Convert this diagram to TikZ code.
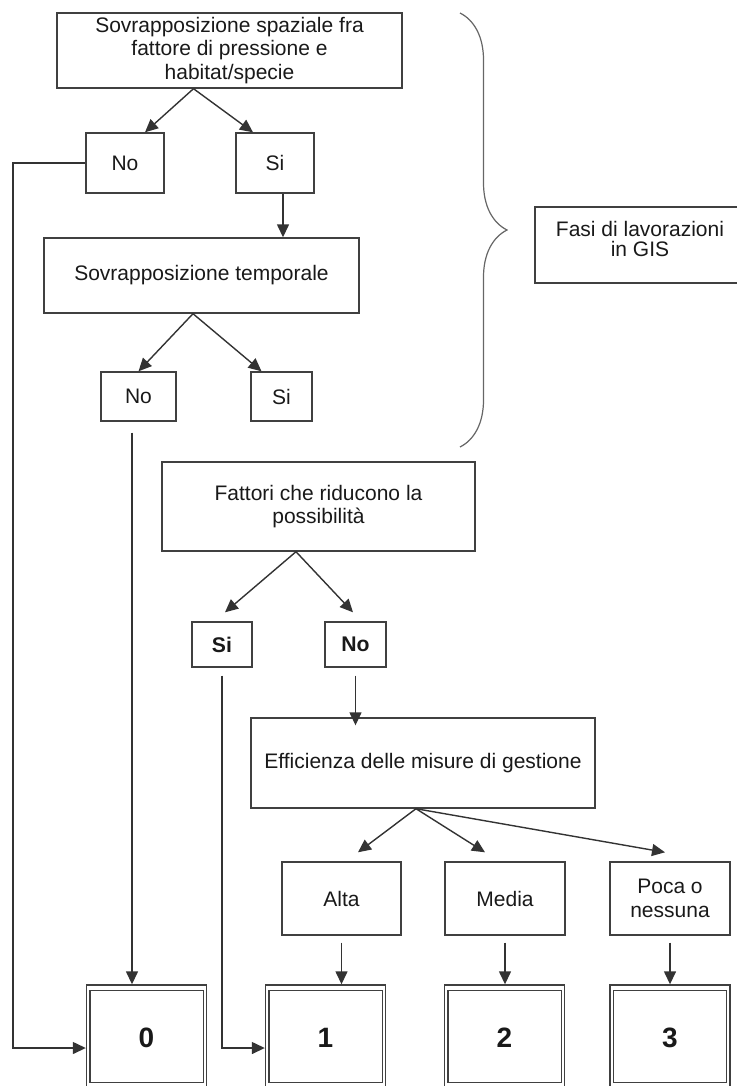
\documentclass[tikz,border=0pt]{standalone}
\usepackage{fontspec}
\setmainfont{Liberation Sans}
\usetikzlibrary{arrows.meta,positioning,decorations.pathreplacing}

\begin{document}
\begin{tikzpicture}[x=0.5pt,y=-0.5pt,
	box/.style={draw=black!75,line width=0.7pt,align=center,inner sep=1pt,text=black!90,font=\fontsize{10.5}{11.8}\selectfont},
	res/.style={draw=black!75,line width=0.7pt,minimum width=60pt,minimum height=52.5pt,text=black!90,font=\fontsize{14}{16}\selectfont\bfseries},
	arr/.style={-{Triangle[length=6.5pt,width=6pt]},draw=black!80,line width=0.7pt},
	lin/.style={draw=black!75,line width=0.7pt}]
				\useasboundingbox (0,0) rectangle (737,1086);
				
				\node[box,minimum width=172.5pt,minimum height=37.5pt] (spaz) at (229.5,50.5) {Sovrapposizione spaziale fra\\fattore di pressione e\\habitat/specie};
				\node[box,minimum width=39pt,minimum height=30pt] (no1) at (125,163) {No};
				\node[box,minimum width=39pt,minimum height=30pt] (si1) at (275,163) {Si};
				\node[box,minimum width=157.5pt,minimum height=37.5pt] (temp) at (201.5,275.5) {Sovrapposizione temporale};
				\node[box,minimum width=37.5pt,minimum height=24.5pt] (no2) at (138.5,396.5) {No};
				\node[box,minimum width=30.5pt,minimum height=24.5pt] (si2) at (281.5,396.5) {Si};
				
				\draw[arr] ([xshift=-18pt]spaz.south) -- ([xshift=10pt]no1.north);
				\draw[arr] ([xshift=-18pt]spaz.south) -- ([xshift=-11pt]si1.north);
				\draw[arr] ([xshift=4pt]si1.south) -- ([xshift=4pt]si1.south |- temp.north);
				\draw[arr] ([xshift=-4.25pt]temp.south) -- (no2.north);
				\draw[arr] ([xshift=-4.25pt]temp.south) -- ([xshift=-10pt]si2.north);
				
				\coordinate (btop) at (460,13);
				\coordinate (bbot) at (460,447);
				\draw[lin,draw=black!60,line width=0.6pt,decorate,decoration={brace,amplitude=23.5pt}] (btop) -- (bbot);
				\node[box,minimum width=105pt,minimum height=38pt] (fasi) at (640,245) {};
				\node[align=center,text=black!90,font=\fontsize{10.5}{10}\selectfont] (fasitxt) at (640,239) {Fasi di lavorazioni\\in GIS};
				
				\node[box,minimum width=156.5pt,minimum height=44.5pt] (fatt) at (318.5,506.5) {Fattori che riducono la\\possibilità};
				\node[box,font=\fontsize{10.6}{12}\selectfont\bfseries,minimum width=30pt,minimum height=22.5pt] (si3) at (222,644.5) {Si};
				\node[box,font=\fontsize{10.6}{12}\selectfont\bfseries,minimum width=30.5pt,minimum height=22.5pt] (no3) at (355.5,644.5) {No};
				\draw[arr] ([xshift=-11.25pt]fatt.south) -- ([xshift=1.5pt,yshift=4.5pt]si3.north);
				\draw[arr] ([xshift=-11.25pt]fatt.south) -- ([xshift=-1.25pt,yshift=4.5pt]no3.north);
				
				\node[box,minimum width=172pt,minimum height=45pt] (eff) at (423,763) {Efficienza delle misure di gestione};
				\draw[arr] ([yshift=-4pt]no3.south) -- ([yshift=-4pt]no3.south |- eff.north);
				\node[box,minimum width=59.5pt,minimum height=36.5pt] (alta) at (341.5,898.5) {Alta};
				\node[box,minimum width=60pt,minimum height=36.5pt] (media) at (505,898.5) {Media};
				\node[box,minimum width=60pt,minimum height=36.5pt] (poca) at (670,898.5) {Poca o\\nessuna};
				\draw[arr] ([xshift=-3.5pt]eff.south) -- ([xshift=8.25pt,yshift=4.5pt]alta.north);
				\draw[arr] ([xshift=-3.5pt]eff.south) -- ([xshift=-10pt,yshift=4.5pt]media.north);
				\draw[arr] ([xshift=-3.5pt]eff.south) -- ([xshift=-2.5pt,yshift=4.5pt]poca.north);
				
				\foreach \n/\x in {0/146.5,1/325.5,2/504.5,3/670}
				\node[res] (r\n) at (\x,1037.5) {\n};
				\foreach \n in {0,...,3}
				\draw[lin] ([shift={(2pt,-3pt)}]r\n.north west) rectangle ([shift={(-2pt,4pt)}]r\n.south east);
				
				\foreach \a/\n in {alta/1,media/2,poca/3}
				\draw[arr] ([yshift=-3.5pt]\a.south) -- (\a.south |- r\n.north);
				
				\coordinate (sx0) at (13,1048);
				\draw[arr] (no1.west) -| (sx0) -- (sx0 -| r0.west);
				\draw[arr] ([xshift=-3.25pt,yshift=-5.5pt]no2.south) -- ([xshift=-3.25pt]no2.south |- r0.north);
				\coordinate (sx1) at (si3.south |- sx0);
				\draw[arr] ([yshift=-4pt]si3.south) -- (sx1) -- (sx1 -| r1.west);
			\end{tikzpicture}
\end{document}
